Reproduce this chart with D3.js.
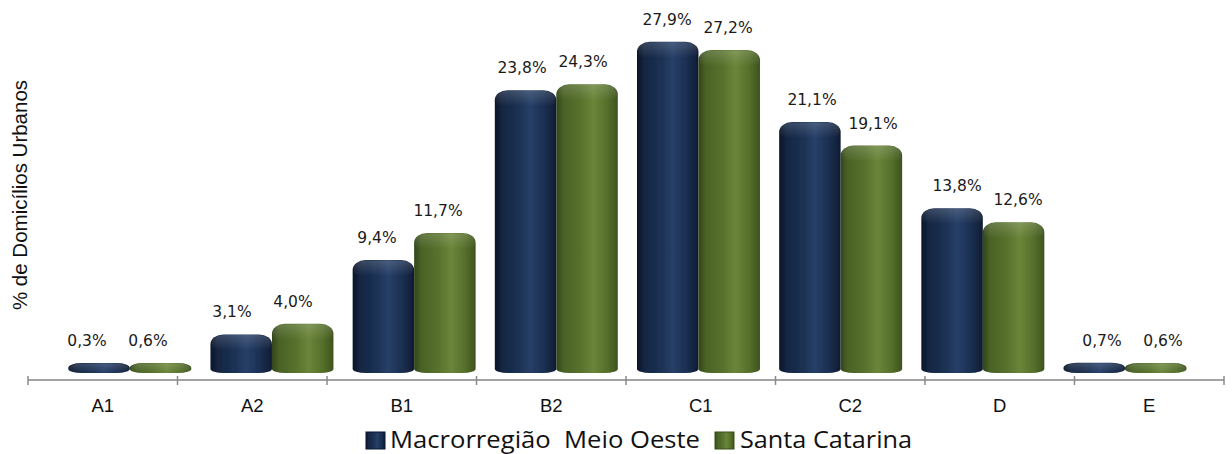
<!DOCTYPE html>
<html>
<head>
<meta charset="utf-8">
<script src="https://cdn.jsdelivr.net/npm/d3@7/dist/d3.min.js"></script>
<style>
  html, body { margin: 0; padding: 0; background: #ffffff; }
  svg { display: block; }
</style>
</head>
<body>
<svg id="chart" width="1232" height="454"></svg>
<script>
// Household distribution by economic class (% of urban households)
const categories = ["A1", "A2", "B1", "B2", "C1", "C2", "D", "E"];
const seriesNames = ["Macrorregião  Meio Oeste", "Santa Catarina"];
const macroValues = [0.3, 3.1, 9.4, 23.8, 27.9, 21.1, 13.8, 0.7];
const stateValues = [0.6, 4.0, 11.7, 24.3, 27.2, 19.1, 12.6, 0.6];
const yTitle = "% de Domicílios Urbanos";

const series = [
  { name: seriesNames[0], values: macroValues, key: "navy" },
  { name: seriesNames[1], values: stateValues, key: "green" }
];

const svg = d3.select("#chart");
const defs = svg.append("defs");

// cylinder shading for each series
const palettes = {
  navy: [["0%", "#0a1526"], ["12%", "#142642"], ["40%", "#1c3254"], ["58%", "#273f68"], ["82%", "#1a2e4f"], ["100%", "#0e1c33"]],
  green: [["0%", "#33451a"], ["12%", "#4a6226"], ["40%", "#58722d"], ["60%", "#6b853a"], ["82%", "#56702b"], ["100%", "#3e531e"]]
};
Object.entries(palettes).forEach(([key, stops]) => {
  const g = defs.append("linearGradient").attr("id", "grad-" + key)
    .attr("x1", "0%").attr("x2", "100%").attr("y1", "0%").attr("y2", "0%");
  stops.forEach(([o, c]) => g.append("stop").attr("offset", o).attr("stop-color", c));
});
const cap = defs.append("linearGradient").attr("id", "cap")
  .attr("x1", "0%").attr("x2", "0%").attr("y1", "0%").attr("y2", "100%");
cap.append("stop").attr("offset", "0%").attr("stop-color", "#ffffff").attr("stop-opacity", 0.16);
cap.append("stop").attr("offset", "100%").attr("stop-color", "#ffffff").attr("stop-opacity", 0);
defs.append("filter").attr("id", "soft").append("feGaussianBlur").attr("stdDeviation", 0.6);

// scales
const xAxisScale = d3.scaleBand().domain(categories).range([28, 1224]);
const xBars = d3.scaleBand().domain(categories).range([58.7, 1196.1])
  .paddingInner(0.135).paddingOuter(0.0675);
const xSeries = d3.scaleBand().domain(seriesNames).range([0, xBars.bandwidth()]);
const xLabels = d3.scaleBand().domain(categories).range([45, 1205]);
const xLabelSeries = d3.scaleBand().domain(seriesNames).range([-61, 61]);
const y = d3.scaleLinear().domain([0, 30]).range([371, 17]);

const axisY = 380;
const baseY = y(0) + 2;

// bar outline: rounded cylinder top, slightly rounded foot
function barPath(x0, w, top, bottom) {
  const h = bottom - top;
  const rx = Math.min(13, w / 2);
  const ry = Math.min(10, h / 2);
  const rb = Math.min(4, h / 2);
  return `M${x0},${bottom - rb}` +
    `L${x0},${top + ry}` +
    `A${rx},${ry} 0 0 1 ${x0 + rx},${top}` +
    `L${x0 + w - rx},${top}` +
    `A${rx},${ry} 0 0 1 ${x0 + w},${top + ry}` +
    `L${x0 + w},${bottom - rb}` +
    `A${rx},${rb} 0 0 1 ${x0 + w - rx},${bottom}` +
    `L${x0 + rx},${bottom}` +
    `A${rx},${rb} 0 0 1 ${x0},${bottom - rb}Z`;
}

const barsG = svg.append("g");
series.slice().reverse().forEach(s => {
  const g = barsG.append("g");
  categories.forEach((c, i) => {
    const v = s.values[i];
    const x0 = xBars(c) + xSeries(s.name);
    const w = xSeries.bandwidth();
    const top = Math.min(y(v), baseY - 10);
    const d = barPath(x0, w, top, baseY);
    g.append("path").attr("d", d).attr("fill", `url(#grad-${s.key})`).attr("filter", "url(#soft)");
    const capH = Math.min(16, baseY - top);
    g.append("path").attr("d", barPath(x0 + 1, w - 2, top + 0.5, top + capH))
      .attr("fill", "url(#cap)");
  });
});
// draw the first series on top of the second where they touch
barsG.node().appendChild(barsG.node().firstChild);

// value labels
series.forEach(s => {
  svg.append("g").selectAll("text").data(categories).join("text")
    .attr("x", (c) => xLabels(c) + xLabels.bandwidth() / 2 + xLabelSeries(s.name) + xLabelSeries.bandwidth() / 2)
    .attr("y", (c, i) => Math.min(y(s.values[i]), baseY - 10) - 17)
    .attr("text-anchor", "middle")
    .attr("font-family", "DejaVu Sans, sans-serif")
    .attr("font-size", 15.5)
    .attr("fill", "#1a1a1a")
    .text((c, i) => d3.format(".1f")(s.values[i]).replace(".", ",") + "%");
});

// x axis: baseline, boundary ticks and category labels
const axisG = svg.append("g").attr("transform", `translate(0,${axisY})`)
  .call(d3.axisBottom(xAxisScale).tickSize(0).tickSizeOuter(0))
  .call(g => g.select(".domain").remove());
axisG.selectAll("text")
  .attr("y", 32).attr("dy", null)
  .attr("font-family", "Liberation Sans, Arial, sans-serif")
  .attr("font-size", 18.5).attr("fill", "#111");
axisG.append("line").attr("x1", xAxisScale.range()[0]).attr("x2", xAxisScale.range()[1])
  .attr("stroke", "#a3a3a3").attr("stroke-width", 2);
const bounds = categories.map(c => xAxisScale(c)).concat([xAxisScale.range()[1]]);
axisG.selectAll("line.bound").data(bounds).join("line").attr("class", "bound")
  .attr("x1", d => d).attr("x2", d => d).attr("y1", -4).attr("y2", 5)
  .attr("stroke", "#8a8a8a").attr("stroke-width", 1.5);

// y axis title
svg.append("text")
  .attr("transform", "translate(27,195) rotate(-90)")
  .attr("text-anchor", "middle")
  .attr("font-family", "Liberation Sans, Arial, sans-serif")
  .attr("font-size", 20.5).attr("fill", "#111")
  .text(yTitle);

// legend
const legendPos = [{ box: 366, text: 390, len: 310 }, { box: 715, text: 740, len: 172 }];
const legend = svg.append("g");
series.forEach((s, i) => {
  legend.append("rect").attr("x", legendPos[i].box).attr("y", 432)
    .attr("width", 19).attr("height", 17)
    .attr("fill", `url(#grad-${s.key})`).attr("stroke", s.key === "navy" ? "#0b1730" : "#3a4f1c")
    .attr("stroke-width", 1).attr("filter", "url(#soft)");
  legend.append("text").attr("x", legendPos[i].text).attr("y", 448)
    .attr("font-family", "Open Sans, sans-serif").attr("font-size", 23.5)
    .attr("textLength", legendPos[i].len).attr("lengthAdjust", "spacingAndGlyphs")
    .attr("fill", "#111").style("white-space", "pre")
    .text(s.name);
});
</script>
</body>
</html>
